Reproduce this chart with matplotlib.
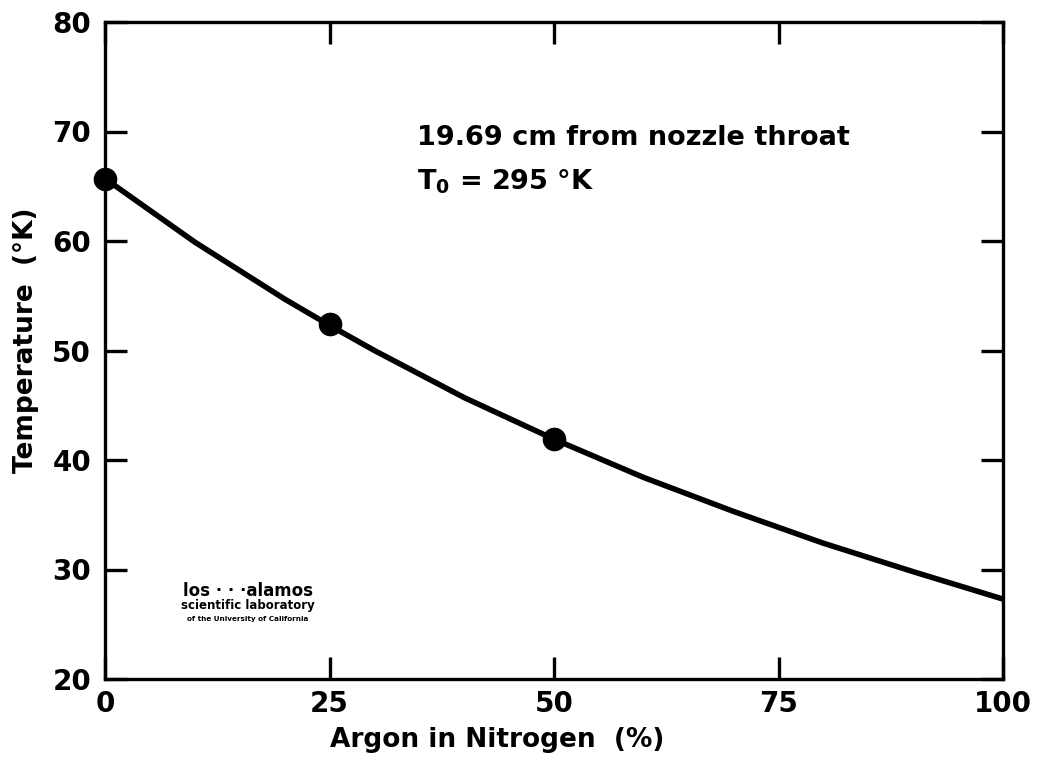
import matplotlib
matplotlib.use("Agg")
import matplotlib.pyplot as plt

# data
pct_points = [0, 25, 50]
temp_points = [65.7, 52.4, 41.9]
curve_pct = [0, 10, 20, 25, 30, 40, 50, 60, 70, 80, 90, 100]
curve_temp = [65.7, 59.9, 54.7, 52.3, 50.0, 45.7, 41.9, 38.4, 35.3, 32.4, 29.8, 27.3]
xticks = [0, 25, 50, 75, 100]
xtick_labels = ["0", "25", "50", "75", "100"]
yticks = [20, 30, 40, 50, 60, 70, 80]

plt.rcParams['font.family'] = ['DejaVu Sans']
plt.rcParams['font.weight'] = 'bold'
plt.rcParams['mathtext.default'] = 'regular'

fig = plt.figure(figsize=(10.38, 7.61), dpi=100)
ax = fig.add_axes([105/1038, 1-679/761, (1003-105)/1038, (679-22)/761])

ax.plot(curve_pct, curve_temp, color='black', lw=4, solid_capstyle='round',
        solid_joinstyle='round')
ax.plot(pct_points, temp_points, 'o', color='black', ms=16, clip_on=False, zorder=5)

ax.set_xlim(0, 100)
ax.set_ylim(20, 80)
ax.set_xticks(xticks)
ax.set_xticklabels(xtick_labels)
ax.set_yticks(yticks)
for s in ax.spines.values():
    s.set_linewidth(2.4)
ax.tick_params(direction='in', length=16, width=2.4, top=True, right=True,
               labelsize=20, pad=8)
ax.tick_params(axis='y', pad=10)
for lab in ax.get_xticklabels() + ax.get_yticklabels():
    lab.set_fontweight('bold')

fig.text(497/1038, 1-740/761, "Argon in Nitrogen  (%)", ha='center', va='center',
         fontsize=19, fontweight='bold')
fig.text(26/1038, 1-340/761, "Temperature  (°K)", ha='center', va='center',
         rotation=90, fontsize=19, fontweight='bold')

fig.text(417/1038, 1-138/761, "19.69 cm from nozzle throat", ha='left', va='center',
         fontsize=19.5, fontweight='bold')
fig.text(417/1038, 1-182/761, r"T$_{\mathbf{0}}$ = 295 °K", ha='left', va='center',
         fontsize=19.5, fontweight='bold')

# logo text
fig.text(248/1038, 1-591/761, "los · · ·alamos", ha='center', va='center', fontsize=12, fontweight='heavy')
fig.text(248/1038, 1-606/761, "scientific laboratory", ha='center', va='center', fontsize=8.5, fontweight='heavy')
fig.text(248/1038, 1-619/761, "of the University of California", ha='center', va='center', fontsize=5.2, fontweight='heavy')

fig.savefig("out.png", dpi=100)
